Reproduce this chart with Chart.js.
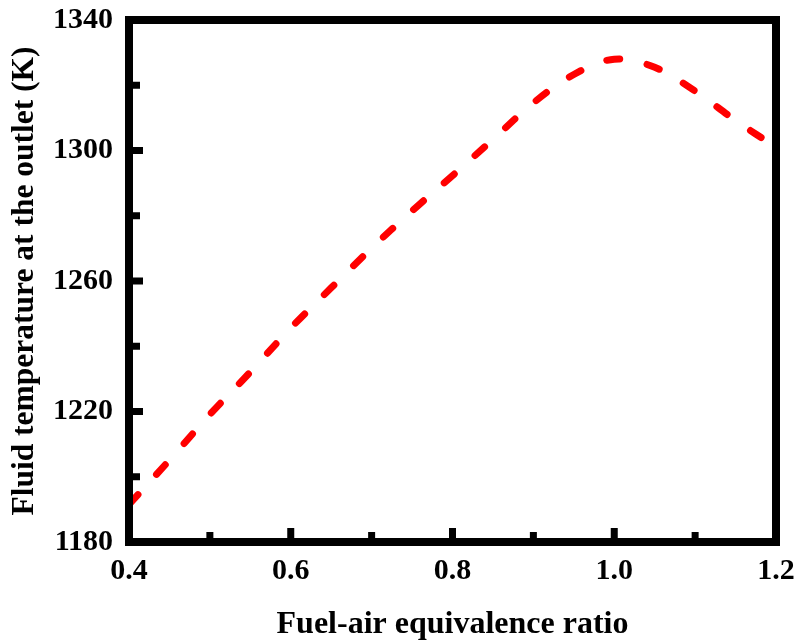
<!DOCTYPE html>
<html>
<head>
<meta charset="utf-8">
<script src="https://cdn.jsdelivr.net/npm/chart.js@4.4.1/dist/chart.umd.min.js"></script>
<style>
  html, body { margin: 0; padding: 0; background: #ffffff; }
  #wrap { width: 798px; height: 644px; }
</style>
</head>
<body>
<div id="wrap"><canvas id="c" width="798" height="644"></canvas></div>
<script>
// Data
const equivalenceRatio = [0.40, 0.45, 0.50, 0.55, 0.60, 0.65, 0.70, 0.75, 0.80, 0.85, 0.90, 0.95, 1.00, 1.05, 1.10, 1.15, 1.20];
const outletTemperature = [1191.5, 1205.1, 1219.1, 1232.1, 1245.6, 1257.9, 1270.1, 1281.5, 1292.3, 1303.4, 1314.6, 1323.3, 1328.0, 1325.5, 1318.2, 1309.2, 1301.0];
const xMajorTicks = [0.4, 0.6, 0.8, 1.0, 1.2];
const xMinorTicks = [0.5, 0.7, 0.9, 1.1];
const yMajorTicks = [1180, 1220, 1260, 1300, 1340];
const yMinorTicks = [1200, 1240, 1280, 1320];
const xTitle = 'Fuel-air equivalence ratio';
const yTitle = 'Fluid temperature at the outlet (K)';

const points = equivalenceRatio.map((x, i) => ({ x: x, y: outletTemperature[i] }));
const FONT = "'Liberation Serif', 'Times New Roman', serif";

const frameAndTicks = {
  id: 'frameAndTicks',
  afterDatasetsDraw(chart) {
    const ctx = chart.ctx;
    const a = chart.chartArea;
    const xs = chart.scales.x, ys = chart.scales.y;
    ctx.save();
    ctx.fillStyle = '#000000';
    const tw = 7;
    xMajorTicks.forEach(v => {
      const px = xs.getPixelForValue(v);
      ctx.fillRect(px - tw / 2, a.bottom - 14, tw, 14);
    });
    xMinorTicks.forEach(v => {
      const px = xs.getPixelForValue(v);
      ctx.fillRect(px - tw / 2, a.bottom - 10, tw, 10);
    });
    yMajorTicks.forEach(v => {
      const py = ys.getPixelForValue(v);
      ctx.fillRect(a.left, py - tw / 2, 14, tw);
    });
    yMinorTicks.forEach(v => {
      const py = ys.getPixelForValue(v);
      ctx.fillRect(a.left, py - tw / 2, 11, tw);
    });
    ctx.strokeStyle = '#000000';
    ctx.lineWidth = 8;
    ctx.lineJoin = 'miter';
    ctx.strokeRect(a.left, a.top, a.right - a.left, a.bottom - a.top);
    ctx.restore();
  }
};

function noPad(scale) {
  scale.paddingLeft = 0; scale.paddingRight = 0;
  scale.paddingTop = 0; scale.paddingBottom = 0;
}

new Chart(document.getElementById('c'), {
  type: 'line',
  data: {
    datasets: [{
      data: points,
      borderColor: '#ff0000',
      borderWidth: 7,
      borderDash: [13, 28],
      borderCapStyle: 'round',
      pointRadius: 0,
      tension: 0.35,
      fill: false
    }]
  },
  options: {
    responsive: false,
    animation: false,
    layout: { padding: { top: 20, right: 22, left: 0, bottom: 0 } },
    plugins: { legend: { display: false }, tooltip: { enabled: false } },
    scales: {
      x: {
        type: 'linear',
        min: 0.4,
        max: 1.2,
        afterBuildTicks(scale) { scale.ticks = xMajorTicks.map(v => ({ value: v })); },
        afterFit(scale) { scale.height = 102; noPad(scale); },
        grid: { display: false, drawTicks: false },
        border: { display: false },
        ticks: {
          padding: 11,
          color: '#000000',
          maxRotation: 0,
          autoSkip: false,
          font: { family: FONT, size: 30, weight: 'bold' },
          callback: v => Number(v).toFixed(1)
        },
        title: {
          display: true,
          text: xTitle,
          color: '#000000',
          padding: { top: 0, bottom: 0 },
          font: { family: FONT, size: 32, weight: 'bold', lineHeight: 1.2 }
        }
      },
      y: {
        min: 1180,
        max: 1340,
        afterBuildTicks(scale) { scale.ticks = yMajorTicks.map(v => ({ value: v })); },
        afterFit(scale) { scale.width = 129; noPad(scale); },
        grid: { display: false, drawTicks: false },
        border: { display: false },
        ticks: {
          padding: 16,
          color: '#000000',
          autoSkip: false,
          font: { family: FONT, size: 30, weight: 'bold' },
          callback: v => String(v)
        },
        title: {
          display: true,
          text: yTitle,
          color: '#000000',
          padding: { top: 6, bottom: 0 },
          font: { family: FONT, size: 31.5, weight: 'bold', lineHeight: 1.2 }
        }
      }
    }
  },
  plugins: [frameAndTicks]
});
</script>
</body>
</html>
